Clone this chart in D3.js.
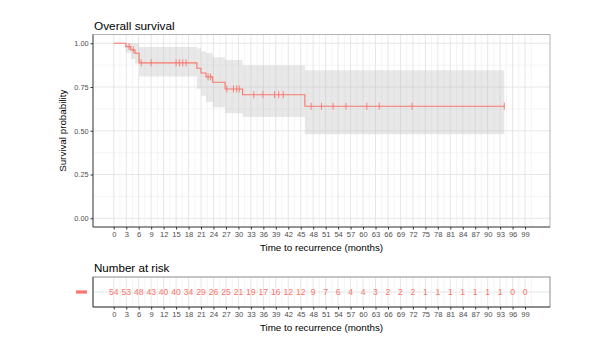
<!DOCTYPE html>
<html><head><meta charset="utf-8">
<script src="https://cdn.jsdelivr.net/npm/d3@7"></script>
<style>body{margin:0;background:#fff;} svg{display:block;font-family:"Liberation Sans",Arial,sans-serif;}</style>
</head><body><svg id="c" width="596" height="356"></svg>
<script>
// ---- data ----
const timeTicks = [0,3,6,9,12,15,18,21,24,27,30,33,36,39,42,45,48,51,54,57,60,63,66,69,72,75,78,81,84,87,90,93,96,99];
const probTicks = [0, 0.25, 0.5, 0.75, 1];
const probTickLabels = ["0.00","0.25","0.50","0.75","1.00"];
const stepTimes = [0, 2.9, 4.1, 5.1, 6.1, 20.0, 21.0, 22.2, 23.8, 26.8, 31.0, 46.0];
const survival  = [1, 0.981, 0.962, 0.943, 0.888, 0.857, 0.830, 0.808, 0.777, 0.739, 0.706, 0.640];
const lowerCI   = [1, 0.946, 0.910, 0.885, 0.810, 0.740, 0.700, 0.665, 0.635, 0.600, 0.578, 0.480];
const upperCI   = [1, 1.000, 1.000, 1.000, 0.978, 0.970, 0.955, 0.945, 0.920, 0.905, 0.875, 0.846];
const lastTime = 94;
const censorTimes = [3.7, 4.7, 6.6, 9.0, 15.0, 15.8, 16.6, 17.4, 22.7, 23.3, 27.2, 28.8, 29.6, 30.2,
                     33.7, 35.9, 38.7, 39.7, 40.8, 47.5, 50.0, 52.8, 55.9, 60.9, 63.9, 71.8, 94.0];
const nRisk = [54,53,48,43,40,40,34,29,26,25,21,19,17,16,12,12,9,7,6,4,4,3,2,2,2,1,1,1,1,1,1,1,0,0];
const title = "Overall survival";
const riskTitle = "Number at risk";
const xTitle = "Time to recurrence (months)";
const yTitle = "Survival probability";
const lineColor = "#F8766D";

const svg = d3.select("#c");
const L = 93, R = 550;
const T1 = 34.5, B1 = 227;
const T2 = 277, B2 = 307;

const x = d3.scaleLinear().domain([-5, 105]).range([L, R]);
const y = d3.scaleLinear().domain([-0.05, 1.05]).range([B1, T1]);

const minorX = timeTicks.map(t => t + 1.5).filter(t => t < 105);

function vgrid(g, top, bot) {
  g.selectAll("line.mi").data(minorX).join("line")
    .attr("x1", d => x(d)).attr("x2", d => x(d)).attr("y1", top).attr("y2", bot)
    .attr("stroke", "#EFEFEF").attr("stroke-width", 0.7);
  g.selectAll("line.ma").data(timeTicks).join("line").attr("class","ma")
    .attr("x1", d => x(d)).attr("x2", d => x(d)).attr("y1", top).attr("y2", bot)
    .attr("stroke", "#E3E3E3").attr("stroke-width", 0.9);
}

// ---------- main panel ----------
const g1 = svg.append("g");
const gridH = [0.125, 0.375, 0.625, 0.875];
g1.selectAll("line.hmi").data(gridH).join("line").attr("class","hmi")
  .attr("x1", L).attr("x2", R).attr("y1", d => y(d)).attr("y2", d => y(d))
  .attr("stroke", "#EFEFEF").attr("stroke-width", 0.7);
g1.selectAll("line.hma").data(probTicks).join("line").attr("class","hma")
  .attr("x1", L).attr("x2", R).attr("y1", d => y(d)).attr("y2", d => y(d))
  .attr("stroke", "#E3E3E3").attr("stroke-width", 0.9);
vgrid(g1.append("g"), T1, B1);

const stepData = stepTimes.map((t, i) => ({t, s: survival[i], lo: lowerCI[i], hi: upperCI[i]}));
stepData.push({t: lastTime, s: survival[survival.length-1], lo: lowerCI[lowerCI.length-1], hi: upperCI[upperCI.length-1]});

const area = d3.area().curve(d3.curveStepAfter)
  .x(d => x(d.t)).y0(d => y(d.lo)).y1(d => y(d.hi));
g1.append("path").datum(stepData).attr("d", area)
  .attr("fill", "#BEBEBE").attr("fill-opacity", 0.36);

const line = d3.line().curve(d3.curveStepAfter).x(d => x(d.t)).y(d => y(d.s));
g1.append("path").datum(stepData).attr("d", line)
  .attr("fill", "none").attr("stroke", lineColor).attr("stroke-width", 1.1);

function survAt(t) {
  let s = 1;
  for (let i = 0; i < stepTimes.length; i++) if (stepTimes[i] <= t) s = survival[i];
  return s;
}
g1.selectAll("line.cens").data(censorTimes).join("line").attr("class","cens")
  .attr("x1", d => x(d)).attr("x2", d => x(d))
  .attr("y1", d => y(survAt(d)) - 3.5).attr("y2", d => y(survAt(d)) + 3.5)
  .attr("stroke", lineColor).attr("stroke-width", 0.9);

// border
g1.append("rect").attr("x", L).attr("y", T1).attr("width", R-L).attr("height", B1-T1)
  .attr("fill", "none").attr("stroke", "#B3B3B3").attr("stroke-width", 1);
g1.append("path").attr("d", `M${L},${T1}V${B1}H${R}`).attr("fill","none").attr("stroke","#555").attr("stroke-width",1);

// axes
const yAxis = d3.axisLeft(y).tickValues(probTicks).tickFormat((d,i) => probTickLabels[i]).tickSize(2.5).tickPadding(2);
const gy = svg.append("g").attr("transform", `translate(${L},0)`).call(yAxis);
gy.select(".domain").remove();
gy.selectAll("text").attr("font-size", 7.3).attr("fill", "#4D4D4D").attr("font-family", "Liberation Sans, Arial, sans-serif");
gy.selectAll("line").attr("stroke", "#333");

const xAxis = d3.axisBottom(x).tickValues(timeTicks).tickSize(2.5).tickPadding(2.5);
function styleX(g) {
  g.select(".domain").remove();
  g.selectAll("text").attr("font-size", 7.6).attr("fill", "#4D4D4D").attr("font-family", "Liberation Sans, Arial, sans-serif");
  g.selectAll("line").attr("stroke", "#333");
}
svg.append("g").attr("transform", `translate(0,${B1})`).call(xAxis).call(styleX);

svg.append("text").attr("x", L + 1).attr("y", 29.5).text(title)
  .attr("font-size", 11.8).attr("fill", "#000");
svg.append("text").attr("x", (L+R)/2).attr("y", 250.5).attr("text-anchor","middle").text(xTitle)
  .attr("font-size", 9.8).attr("fill", "#000");
svg.append("text").attr("transform", `translate(66,${(T1+B1)/2}) rotate(-90)`).attr("text-anchor","middle").text(yTitle)
  .attr("font-size", 9.8).attr("fill", "#000");

// ---------- risk table ----------
const g2 = svg.append("g");
vgrid(g2.append("g"), T2, B2);
g2.append("line").attr("x1", L).attr("x2", R).attr("y1", (T2+B2)/2).attr("y2", (T2+B2)/2)
  .attr("stroke", "#E3E3E3").attr("stroke-width", 0.9);
g2.selectAll("text.nr").data(nRisk).join("text").attr("class","nr")
  .attr("x", (d,i) => x(timeTicks[i])).attr("y", (T2+B2)/2 + 3.2)
  .attr("text-anchor", "middle").attr("font-size", 8.6).attr("fill", lineColor).text(d => d);
g2.append("rect").attr("x", L).attr("y", T2).attr("width", R-L).attr("height", B2-T2)
  .attr("fill", "none").attr("stroke", "#8C8C8C").attr("stroke-width", 1);
g2.append("path").attr("d", `M${L},${T2}V${B2}H${R}`).attr("fill","none").attr("stroke","#555").attr("stroke-width",1);
svg.append("line").attr("x1", 76).attr("x2", 87).attr("y1", (T2+B2)/2).attr("y2", (T2+B2)/2)
  .attr("stroke", lineColor).attr("stroke-width", 3.2);
svg.append("g").attr("transform", `translate(0,${B2})`).call(xAxis).call(styleX);
svg.append("text").attr("x", L + 1).attr("y", 271.5).text(riskTitle)
  .attr("font-size", 11.6).attr("fill", "#000");
svg.append("text").attr("x", (L+R)/2).attr("y", 331).attr("text-anchor","middle").text(xTitle)
  .attr("font-size", 9.8).attr("fill", "#000");
</script></body></html>
